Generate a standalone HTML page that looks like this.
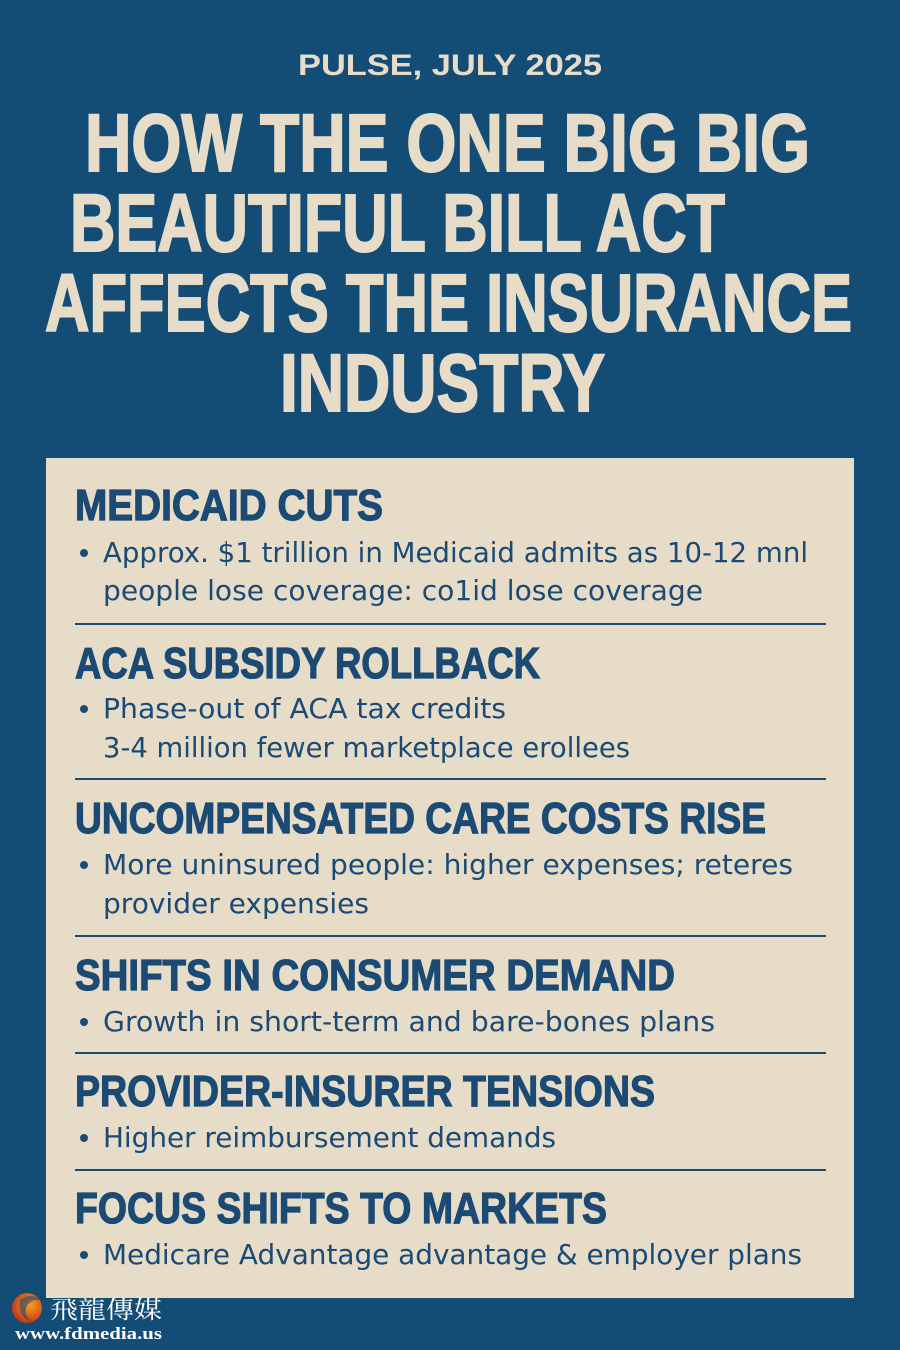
<!DOCTYPE html>
<html><head><meta charset="utf-8"><style>
html,body{margin:0;padding:0;background:#134c75;}
svg{display:block}
</style></head><body>
<svg width="900" height="1350" viewBox="0 0 900 1350" xmlns="http://www.w3.org/2000/svg">
<rect width="900" height="1350" fill="#134c75"/>
<g font-family="Liberation Sans, sans-serif" font-weight="bold" fill="#e6dcc8">
<text x="298" y="75" font-size="30" textLength="304" lengthAdjust="spacingAndGlyphs">PULSE, JULY 2025</text>
<g stroke="#e6dcc8" stroke-width="2">
<text x="85" y="171" font-size="82" textLength="725" lengthAdjust="spacingAndGlyphs">HOW THE ONE BIG BIG</text>
<text x="70" y="251" font-size="82" textLength="655" lengthAdjust="spacingAndGlyphs">BEAUTIFUL BILL ACT</text>
<text x="45" y="331" font-size="82" textLength="807" lengthAdjust="spacingAndGlyphs">AFFECTS THE INSURANCE</text>
<text x="280" y="411" font-size="82" textLength="325" lengthAdjust="spacingAndGlyphs">INDUSTRY</text>
</g>
</g>
<rect x="46" y="458" width="808" height="840" fill="#e6dcc8"/>
<g stroke="#1b4a74" stroke-width="2">
<line x1="75" y1="624" x2="826" y2="624"/>
<line x1="75" y1="779" x2="826" y2="779"/>
<line x1="75" y1="936" x2="826" y2="936"/>
<line x1="75" y1="1053" x2="826" y2="1053"/>
<line x1="75" y1="1170" x2="826" y2="1170"/>
</g>
<g font-family="Liberation Sans, sans-serif" font-weight="bold" fill="#1b4a74" stroke="#1b4a74" stroke-width="1.2" font-size="44">
<text x="75" y="520" textLength="308" lengthAdjust="spacingAndGlyphs">MEDICAID CUTS</text>
<text x="75" y="678" textLength="465" lengthAdjust="spacingAndGlyphs">ACA SUBSIDY ROLLBACK</text>
<text x="75" y="833" textLength="691" lengthAdjust="spacingAndGlyphs">UNCOMPENSATED CARE COSTS RISE</text>
<text x="75" y="990" textLength="600" lengthAdjust="spacingAndGlyphs">SHIFTS IN CONSUMER DEMAND</text>
<text x="75" y="1106" textLength="580" lengthAdjust="spacingAndGlyphs">PROVIDER-INSURER TENSIONS</text>
<text x="75" y="1223" textLength="532" lengthAdjust="spacingAndGlyphs">FOCUS SHIFTS TO MARKETS</text>
</g>
<g fill="#1b4a74">
<circle cx="84" cy="553" r="4"/>
<circle cx="84" cy="709" r="4"/>
<circle cx="84" cy="865" r="4"/>
<circle cx="84" cy="1022" r="4"/>
<circle cx="84" cy="1138" r="4"/>
<circle cx="84" cy="1255" r="4"/>
</g>
<g font-family="DejaVu Sans, Liberation Sans, sans-serif" fill="#1b4a74" font-size="28">
<text x="103" y="562" textLength="705" lengthAdjust="spacingAndGlyphs">Approx. $1 trillion in Medicaid admits as 10-12 mnl</text>
<text x="103" y="600" textLength="600" lengthAdjust="spacingAndGlyphs">people lose coverage: co1id lose coverage</text>
<text x="103" y="718" textLength="403" lengthAdjust="spacingAndGlyphs">Phase-out of ACA tax credits</text>
<text x="103" y="757" textLength="527" lengthAdjust="spacingAndGlyphs">3-4 million fewer marketplace erollees</text>
<text x="103" y="874" textLength="690" lengthAdjust="spacingAndGlyphs">More uninsured people: higher expenses; reteres</text>
<text x="103" y="913" textLength="266" lengthAdjust="spacingAndGlyphs">provider expensies</text>
<text x="103" y="1031" textLength="612" lengthAdjust="spacingAndGlyphs">Growth in short-term and bare-bones plans</text>
<text x="103" y="1147" textLength="453" lengthAdjust="spacingAndGlyphs">Higher reimbursement demands</text>
<text x="103" y="1264" textLength="699" lengthAdjust="spacingAndGlyphs">Medicare Advantage advantage &amp; employer plans</text>
</g>
<defs><radialGradient id="g" cx="0.6" cy="0.4" r="0.6"><stop offset="0" stop-color="#f7a020"/><stop offset="1" stop-color="#c8381a"/></radialGradient></defs>
<circle cx="27" cy="1308" r="15" fill="url(#g)"/>
<path d="M20 1300 q10 -8 22 0 q-12 -2 -16 8 q-2 8 6 14 q-14 -4 -12 -22z" fill="#134c75" opacity="0.6"/>
<text x="50" y="1318" font-family="Noto Serif CJK SC, Noto Sans CJK TC, serif" font-size="24" fill="#ffffff" textLength="112" lengthAdjust="spacingAndGlyphs">飛龍傳媒</text>
<text x="15" y="1339" font-family="Liberation Serif, serif" font-weight="bold" font-size="17" fill="#ffffff" textLength="147" lengthAdjust="spacingAndGlyphs">www.fdmedia.us</text>
</svg>
</body></html>
